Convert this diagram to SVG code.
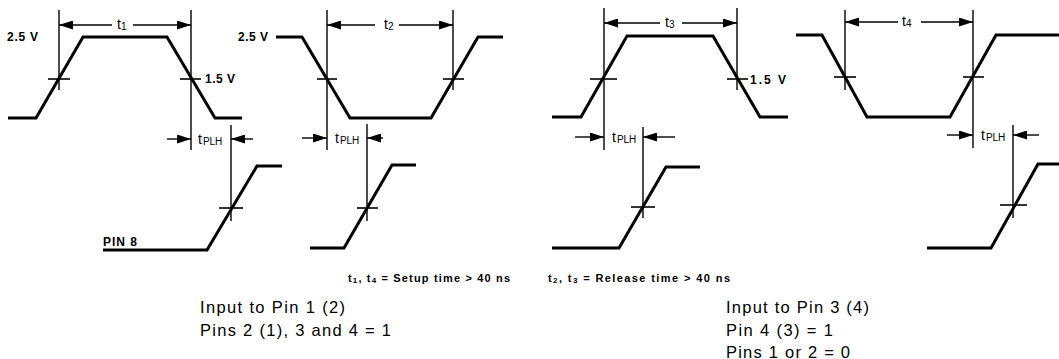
<svg xmlns="http://www.w3.org/2000/svg" width="1059" height="359" viewBox="0 0 1059 359">
<defs>
<marker id="ah" viewBox="0 0 14 9" refX="14" refY="4.5" markerWidth="14" markerHeight="9" markerUnits="userSpaceOnUse" orient="auto"><path d="M0,0 L14,4.5 L0,9 z" fill="#000"/></marker>
<style>
.wave{fill:none;stroke:#000;stroke-width:3;stroke-linejoin:miter}
.dim{fill:none;stroke:#000;stroke-width:1.4}
.cross{fill:none;stroke:#000;stroke-width:1.6}
.arr{fill:none;stroke:#000;stroke-width:1.4;marker-end:url(#ah)}
.lbl{font-family:"Liberation Sans",Arial,sans-serif;font-weight:bold;font-size:12px;fill:#000}
.t{font-family:"Liberation Sans",Arial,sans-serif;font-size:14px;fill:#000}
.sub{font-size:10px}
.small{font-family:"Liberation Sans",Arial,sans-serif;font-weight:bold;font-size:11px;fill:#000}
.big{font-family:"Liberation Sans",Arial,sans-serif;font-size:16.5px;fill:#000}
</style>
</defs>
<rect width="1059" height="359" fill="#fff"/>

<g id="panel1">
<path class="wave" d="M8,118 H36 L83,37 H167 L215,118 H242"/>
<path class="wave" d="M103,250 H207 L257,166 H282"/>
<line class="dim" x1="59" y1="10" x2="59" y2="90"/>
<line class="dim" x1="191" y1="10" x2="191" y2="150"/>
<line class="dim" x1="231" y1="125" x2="231" y2="221"/>
<line class="cross" x1="48" y1="79" x2="70" y2="79"/>
<line class="cross" x1="180" y1="79" x2="201" y2="79"/>
<line class="cross" x1="219" y1="208" x2="243" y2="208"/>
<text class="lbl" x="7" y="41" textLength="31" lengthAdjust="spacing">2.5 V</text>
<text class="lbl" x="205" y="83" textLength="30" lengthAdjust="spacing">1.5 V</text>
<text class="lbl" x="103" y="246" textLength="34" lengthAdjust="spacing">PIN 8</text>
<text class="t" x="117" y="29">t<tspan class="sub" dy="1">1</tspan></text>
<text class="t" x="198" y="144">t<tspan class="sub" dx="1" dy="1">PLH</tspan></text>
</g>

<g id="panel2">
<path class="wave" d="M276,37 H302 L350,118 H431 L478,37 H503"/>
<path class="wave" d="M310,248 H344 L392,165 H416"/>
<line class="dim" x1="327" y1="10" x2="327" y2="150"/>
<line class="dim" x1="453" y1="10" x2="453" y2="90"/>
<line class="dim" x1="367" y1="124" x2="367" y2="221"/>
<line class="cross" x1="317" y1="79" x2="337" y2="79"/>
<line class="cross" x1="443" y1="79" x2="464" y2="79"/>
<line class="cross" x1="357" y1="208" x2="378" y2="208"/>
<text class="lbl" x="238" y="41" textLength="30" lengthAdjust="spacing">2.5 V</text>
<text class="t" x="384" y="29">t<tspan class="sub" dy="1">2</tspan></text>
<text class="t" x="335" y="143">t<tspan class="sub" dx="1" dy="1">PLH</tspan></text>
</g>

<g id="panel3">
<path class="wave" d="M552,117 H581 L627,36 H713 L760,117 H788"/>
<path class="wave" d="M552,248 H619 L666,167 H700"/>
<line class="dim" x1="604" y1="8" x2="604" y2="150"/>
<line class="dim" x1="737" y1="8" x2="737" y2="90"/>
<line class="dim" x1="643" y1="127" x2="643" y2="218"/>
<line class="cross" x1="590" y1="79" x2="617" y2="79"/>
<line class="cross" x1="727" y1="79" x2="748" y2="79"/>
<line class="cross" x1="631" y1="207" x2="655" y2="207"/>
<text class="lbl" x="750" y="84" textLength="36" lengthAdjust="spacing">1.5 V</text>
<text class="t" x="665" y="27">t<tspan class="sub" dy="1">3</tspan></text>
<text class="t" x="612" y="142">t<tspan class="sub" dx="1" dy="1">PLH</tspan></text>
</g>

<g id="panel4">
<path class="wave" d="M796,35 H822 L867,117 H950 L996,35 H1059"/>
<path class="wave" d="M927,248 H991 L1038,164 H1059"/>
<line class="dim" x1="845" y1="10" x2="845" y2="90"/>
<line class="dim" x1="973" y1="10" x2="973" y2="148"/>
<line class="dim" x1="1013" y1="125" x2="1013" y2="218"/>
<line class="cross" x1="834" y1="77" x2="856" y2="77"/>
<line class="cross" x1="963" y1="77" x2="984" y2="77"/>
<line class="cross" x1="1000" y1="205" x2="1027" y2="205"/>
<text class="t" x="902" y="26">t<tspan class="sub" dy="1">4</tspan></text>
<text class="t" x="981" y="140">t<tspan class="sub" dx="1" dy="1">PLH</tspan></text>
</g>

<g id="connectors">
<line class="arr" x1="112" y1="25" x2="59" y2="25"/>
<line class="arr" x1="133" y1="25" x2="191" y2="25"/>
<line class="arr" x1="167" y1="139" x2="191" y2="139"/>
<line class="arr" x1="253" y1="139" x2="231" y2="139"/>
<line class="arr" x1="375" y1="25" x2="327" y2="25"/>
<line class="arr" x1="399" y1="25" x2="453" y2="25"/>
<line class="arr" x1="302" y1="138" x2="327" y2="138"/>
<line class="arr" x1="383" y1="138" x2="367" y2="138"/>
<line class="arr" x1="660" y1="23" x2="604" y2="23"/>
<line class="arr" x1="682" y1="23" x2="737" y2="23"/>
<line class="arr" x1="575" y1="137" x2="604" y2="137"/>
<line class="arr" x1="675" y1="137" x2="643" y2="137"/>
<line class="arr" x1="898" y1="22" x2="845" y2="22"/>
<line class="arr" x1="921" y1="22" x2="973" y2="22"/>
<line class="arr" x1="947" y1="135" x2="973" y2="135"/>
<line class="arr" x1="1039" y1="135" x2="1013" y2="135"/>
</g>

<g id="notes">
<text class="small" x="348" y="282" textLength="162" lengthAdjust="spacing">t<tspan font-size="8" dy="1">1</tspan><tspan dy="-1">, t</tspan><tspan font-size="8" dy="1">4</tspan><tspan dy="-1"> = Setup time &gt; 40 ns</tspan></text>
<text class="small" x="548" y="282" textLength="182" lengthAdjust="spacing">t<tspan font-size="8" dy="1">2</tspan><tspan dy="-1">, t</tspan><tspan font-size="8" dy="1">3</tspan><tspan dy="-1"> = Release time &gt; 40 ns</tspan></text>
<text class="big" x="200" y="313" textLength="145" lengthAdjust="spacing">Input to Pin 1 (2)</text>
<text class="big" x="200" y="336" textLength="191" lengthAdjust="spacing">Pins 2 (1), 3 and 4 = 1</text>
<text class="big" x="726" y="313" textLength="143" lengthAdjust="spacing">Input to Pin 3 (4)</text>
<text class="big" x="726" y="336" textLength="107" lengthAdjust="spacing">Pin 4 (3) = 1</text>
<text class="big" x="726" y="358" textLength="124" lengthAdjust="spacing">Pins 1 or 2 = 0</text>
</g>
</svg>
